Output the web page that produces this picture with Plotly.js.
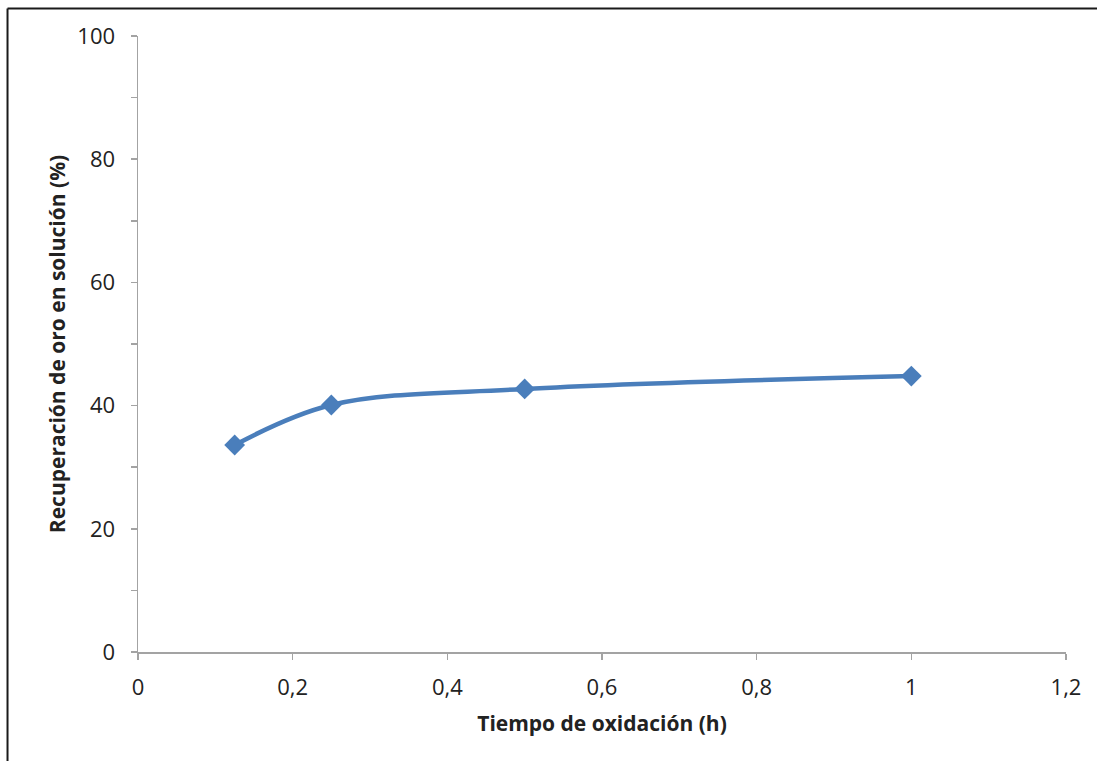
<!DOCTYPE html>
<html>
<head>
<meta charset="utf-8">
<script src="https://cdn.plot.ly/plotly-3.0.1.min.js"></script>
<style>
  html, body { margin: 0; padding: 0; background: #fff; }
  #chart { width: 1097px; height: 761px; }
</style>
</head>
<body>
<div id="chart"></div>
<script>
// Tiempo de oxidación (h) vs. recuperación de oro en solución (%)
const tiempoOxidacion = [0.125, 0.25, 0.5, 1];
const recuperacionOro = [33.6, 40.1, 42.7, 44.8];

const xTickVals = [0, 0.2, 0.4, 0.6, 0.8, 1, 1.2];
const xTickText = ['0', '0,2', '0,4', '0,6', '0,8', '1', '1,2'];
const yTickVals = [0, 20, 40, 60, 80, 100];

const axisGray = '#a3a3a3';
const textColor = '#222222';
const fontFamily = '"Open Sans", "Noto Sans", sans-serif';

const trace = {
  x: tiempoOxidacion,
  y: recuperacionOro,
  type: 'scatter',
  mode: 'lines+markers',
  line: { color: '#4a7ebb', width: 4.5, shape: 'spline', smoothing: 1 },
  marker: { symbol: 'diamond', size: 16, color: '#4a7ebb' },
  hoverinfo: 'x+y',
  showlegend: false
};

const layout = {
  width: 1097,
  height: 761,
  margin: { l: 138, r: 31, t: 36, b: 109 },
  paper_bgcolor: '#ffffff',
  plot_bgcolor: '#ffffff',
  font: { family: fontFamily, color: textColor, size: 22 },
  xaxis: {
    range: [0, 1.2],
    tickvals: xTickVals,
    ticktext: xTickText,
    showgrid: false,
    zeroline: false,
    showline: true,
    linecolor: axisGray,
    linewidth: 1.5,
    ticks: 'outside',
    ticklen: 6,
    tickwidth: 1.5,
    tickcolor: axisGray,
    ticklabelstandoff: 9,
    tickfont: { family: fontFamily, size: 22, color: textColor },
    title: {
      text: 'Tiempo de oxidación (h)',
      font: { family: fontFamily, size: 21, color: textColor, weight: 'bold' },
      standoff: 16
    }
  },
  yaxis: {
    range: [0, 100],
    tickvals: yTickVals,
    showgrid: false,
    zeroline: false,
    showline: true,
    linecolor: axisGray,
    linewidth: 1.5,
    ticks: 'outside',
    ticklen: 6,
    tickwidth: 1.5,
    tickcolor: axisGray,
    ticklabelstandoff: 11,
    tickfont: { family: fontFamily, size: 22, color: textColor },
    minor: { dtick: 10, ticks: 'outside', ticklen: 6, tickwidth: 1.5, tickcolor: axisGray, showgrid: false },
    title: {
      text: 'Recuperación de oro en solución (%)',
      font: { family: fontFamily, size: 21, color: textColor, weight: 'bold' },
      standoff: 6
    }
  },
  shapes: [
    // chart frame (top and left edges)
    { type: 'line', xref: 'paper', yref: 'paper', x0: -0.1406, x1: 1.05, y0: 1.0446, y1: 1.0446,
      line: { color: '#1a1a1a', width: 2 } },
    { type: 'line', xref: 'paper', yref: 'paper', x0: -0.1406, x1: -0.1406, y0: -0.2, y1: 1.0446,
      line: { color: '#1a1a1a', width: 2 } }
  ]
};

Plotly.newPlot('chart', [trace], layout, { displayModeBar: false, staticPlot: true });
</script>
</body>
</html>
